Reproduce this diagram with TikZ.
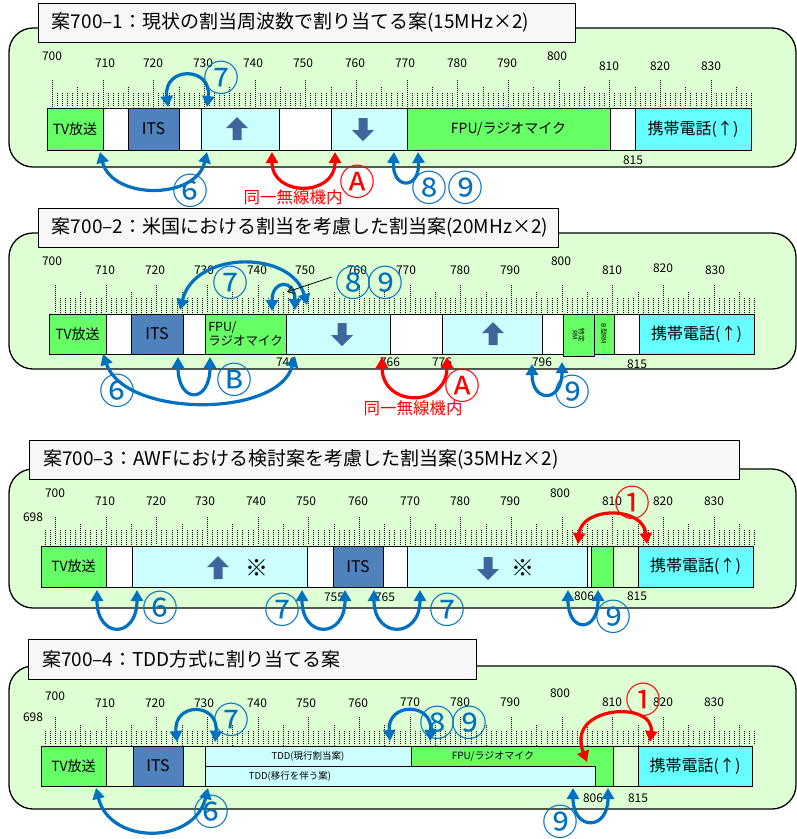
\documentclass[tikz,border=0pt]{standalone}
\usepackage{fontspec}
\setmainfont{Noto Sans CJK JP}
\usetikzlibrary{arrows.meta}
\definecolor{bgG}{HTML}{DEFFD4}
\definecolor{tvG}{HTML}{66FF66}
\definecolor{itsB}{HTML}{4F81BD}
\definecolor{lcy}{HTML}{CCFFFF}
\definecolor{mcy}{HTML}{66FFFF}
\definecolor{arB}{HTML}{0070C0}
\definecolor{arR}{HTML}{FF0000}
\definecolor{blkA}{HTML}{3F669C}
\definecolor{ttlF}{HTML}{F7F7F7}
\newcommand{\fs}[1]{\fontsize{#1}{#1}\selectfont}
\newcommand{\mkticks}[5]{%
 \foreach \f in {#2,...,838}{%
  \pgfmathsetmacro{\tx}{#1+(\f-710)*5.067}%
  \pgfmathsetmacro{\ty}{#4-(#4-#3)*0.45*(mod(\f,5)==0)-(#4-#3)*0.55*(mod(\f,10)==0)}%
  \draw[tickl] (\tx,\ty) -- (\tx,#5);}}
\begin{document}
\begin{tikzpicture}[x=1pt,y=-1pt,
 panel/.style={draw=black, line width=1.3pt, fill=bgG, rounded corners=24pt},
 ttl/.style={draw=black, line width=1pt, fill=ttlF, anchor=north west, inner xsep=14pt, inner ysep=0pt, outer sep=0pt, align=left, font=\fs{19}},
 blk/.style={draw=black, line width=1pt, anchor=north west, inner sep=0pt, outer sep=0pt, font=\fs{14}, minimum height=42pt},
 scl/.style={font=\fs{12}, inner sep=0pt},
 tickl/.style={draw=black, line width=0.65pt, dash pattern=on 0.9pt off 1.1pt},
 barr/.style={draw=arB, line width=3.2pt, {Triangle[length=11pt,width=12pt]}-{Triangle[length=11pt,width=12pt]}},
 rarr/.style={draw=arR, line width=3.2pt, {Triangle[length=11pt,width=12pt]}-{Triangle[length=11pt,width=12pt]}},
 cnum/.style={text=arB, font=\fs{36}, inner sep=0pt},
 rnum/.style={text=arR, font=\fs{36}, inner sep=0pt},
 rtxt/.style={text=arR, font=\fs{16.5}, inner sep=0pt},
 kome/.style={font=\fs{23}, inner sep=0pt},
 uparrow/.pic={\fill[blkA] (0,-12) -- (11,-1) -- (4.5,-1) -- (4.5,11) -- (-4.5,11) -- (-4.5,-1) -- (-11,-1) -- cycle;},
 dnarrow/.pic={\fill[blkA] (0,12) -- (11,1) -- (4.5,1) -- (4.5,-11) -- (-4.5,-11) -- (-4.5,1) -- (-11,1) -- cycle;}
]
\useasboundingbox (0,0) rectangle (797,839);
\fill[white] (0,0) rectangle (797,839);

% ================= Panel 1 =================
\draw[panel] (9,28) rectangle (796,167);
\node[ttl, minimum width=537pt, minimum height=39pt, text width=509pt] (t1) at (38,3) {案700–1：現状の割当周波数で割り当てる案(15MHz×2)};
\mkticks{103}{700}{80}{93}{107}
\foreach \t/\x/\y in {700/52/56,710/105/63,720/153/63,730/203/63,740/253/63,750/303/63,760/355/63,770/405/63,780/457/63,790/507/63,800/557/56,810/609/66,820/660/66,830/711/66}
  \node[scl] (p1s\t) at (\x,\y) {\t};
\node[blk, fill=tvG, minimum width=56pt] (p1tv) at (47,108) {TV放送};
\node[blk, fill=white, minimum width=25pt] (p1w1) at (103,108) {};
\node[blk, fill=itsB, minimum width=51pt, font=\fs{16}] (p1its) at (128,108) {ITS};
\node[blk, fill=white, minimum width=22pt] (p1w2) at (179,108) {};
\node[blk, fill=lcy, minimum width=78pt] (p1up) at (201,108) {};
\node[blk, fill=white, minimum width=52pt] (p1w3) at (279,108) {};
\node[blk, fill=lcy, minimum width=76pt] (p1dn) at (331,108) {};
\node[blk, fill=tvG, minimum width=203pt] (p1fpu) at (407,108) {FPU/ラジオマイク};
\node[blk, fill=white, minimum width=25pt] (p1w4) at (610,108) {};
\node[blk, fill=mcy, minimum width=116pt, font=\fs{16}] (p1mob) at (635,108) {携帯電話(↑)};
\pic at (237,129) {uparrow};
\pic at (363,129) {dnarrow};
\node[scl] (p1b815) at (633,160) {815};
% arrows
\coordinate (p1a7s) at (168,107); \coordinate (p1a7e) at (207,107);
\draw[barr] (p1a7s) .. controls (163,66) and (212,66) .. (p1a7e);
\node[cnum] (p1l7) at (221,78) {⑦};
\coordinate (p1a6s) at (100,152); \coordinate (p1a6e) at (207,152);
\draw[barr] (p1a6s) .. controls (112,200) and (196,200) .. (p1a6e);
\node[cnum] (p1l6) at (190,191) {⑥};
\coordinate (p1aAs) at (272,152); \coordinate (p1aAe) at (335,152);
\draw[rarr] (p1aAs) .. controls (272,197) and (335,197) .. (p1aAe);
\node[rnum] (p1lA) at (357,182) {Ⓐ};
\node[rtxt] (p1same) at (293,197) {同一無線機内};
\coordinate (p1a8s) at (394,152); \coordinate (p1a8e) at (418,152);
\draw[barr] (p1a8s) .. controls (392,190) and (420,190) .. (p1a8e);
\node[cnum] (p1l89) at (447,188) {⑧⑨};

% ================= Panel 2 =================
\draw[panel] (9,233) rectangle (796,369);
\node[ttl, minimum width=520pt, minimum height=39pt, text width=492pt] (t2) at (38,208) {案700–2：米国における割当を考慮した割当案(20MHz×2)};
\mkticks{106}{700}{285}{298}{313}
\foreach \t/\x/\y in {700/52/261,710/105/270,720/155/270,730/204/270,740/257/270,750/305/270,760/357/270,770/406/270,780/460/270,790/510/270,800/561/261,810/612/270,820/663/268,830/715/270}
  \node[scl] (p2s\t) at (\x,\y) {\t};
\node[blk, fill=tvG, minimum width=57pt, minimum height=40pt] (p2tv) at (49,314) {TV放送};
\node[blk, fill=white, minimum width=25pt, minimum height=40pt] (p2w1) at (106,314) {};
\node[blk, fill=itsB, minimum width=52pt, minimum height=40pt, font=\fs{16}] (p2its) at (131,314) {ITS};
\node[blk, fill=white, minimum width=22pt, minimum height=40pt] (p2w2) at (183,314) {};
\node[blk, fill=tvG, minimum width=81pt, minimum height=40pt, align=left, font=\fs{12.5}] (p2fpu) at (205,314) {FPU/\\[2pt]ラジオマイク};
\node[blk, fill=lcy, minimum width=104pt, minimum height=40pt] (p2dn) at (286,314) {};
\node[blk, fill=white, minimum width=52pt, minimum height=40pt] (p2w3) at (390,314) {};
\node[blk, fill=lcy, minimum width=100pt, minimum height=40pt] (p2up) at (442,314) {};
\node[blk, fill=white, minimum width=21pt, minimum height=40pt] (p2w4) at (542,314) {};
\node[blk, fill=tvG, minimum width=31pt, minimum height=42pt] (p2rm1) at (563,314) {};
\node[font=\fs{6.5}, rotate=-90, align=center, inner sep=0pt] (p2rm1t) at (p2rm1.center) {特定\\RM};
\node[blk, fill=tvG, minimum width=20pt, minimum height=40pt] (p2rm2) at (594,314) {};
\node[font=\fs{6.5}, rotate=-90, inner sep=0pt] (p2rm2t) at (p2rm2.center) {B型RM};
\node[blk, fill=white, minimum width=25pt, minimum height=40pt] (p2w5) at (614,314) {};
\node[blk, fill=mcy, minimum width=115pt, minimum height=40pt, font=\fs{16}] (p2mob) at (639,314) {携帯電話(↑)};
\pic at (342,334) {dnarrow};
\pic at (493,334) {uparrow};
\foreach \t/\x in {746/286,766/390,776/442,796/542}
  \node[scl] (p2b\t) at (\x,362) {\t};
\node[scl] (p2b815) at (637,364) {815};
% arrows
\coordinate (p2a7s) at (180,310); \coordinate (p2a7e) at (307,305);
\draw[barr] (p2a7s) .. controls (195,250) and (292,250) .. (p2a7e);
\node[cnum] (p2l7) at (230,283) {⑦};
\coordinate (p2a8s) at (272,311); \coordinate (p2a8e) at (295,310);
\draw[barr] (p2a8s) .. controls (272,279) and (295,279) .. (p2a8e);
\node[cnum] (p2l8) at (353,283) {⑧};
\node[cnum] (p2l9) at (385,283) {⑨};
\coordinate (p2ptr) at (287,292);
\draw[black, line width=0.8pt, -{Straight Barb[length=6pt,width=8pt]}] (p2l8.west) ++(-3,-6) coordinate (p2ptrs) -- (p2ptr);
\coordinate (p2a6s) at (103,354); \coordinate (p2a6e) at (295,356);
\draw[barr] (p2a6s) .. controls (125,418) and (278,418) .. (p2a6e);
\node[cnum] (p2l6) at (117,391) {⑥};
\coordinate (p2aBs) at (178,357); \coordinate (p2aBe) at (210,357);
\draw[barr] (p2aBs) .. controls (178,404) and (210,404) .. (p2aBe);
\node[cnum] (p2lB) at (234,380) {Ⓑ};
\coordinate (p2aAs) at (382,357); \coordinate (p2aAe) at (447,357);
\draw[rarr] (p2aAs) .. controls (382,408) and (447,408) .. (p2aAe);
\node[rnum] (p2lA) at (462,386) {Ⓐ};
\node[rtxt] (p2same) at (413,408) {同一無線機内};
\coordinate (p2a9s) at (532,364); \coordinate (p2a9e) at (562,362);
\draw[barr] (p2a9s) .. controls (532,403) and (562,403) .. (p2a9e);
\node[cnum] (p2l9b) at (572,392) {⑨};

% ================= Panel 3 =================
\draw[panel] (9,469) rectangle (796,608);
\node[ttl, minimum width=710pt, minimum height=39pt, text width=682pt] (t3) at (29,440) {案700–3：AWFにおける検討案を考慮した割当案(35MHz×2)};
\mkticks{106}{698}{517}{530}{545}
\foreach \t/\x/\y in {700/55/493,710/105/501,720/156/501,730/205/501,740/256/501,750/306/501,760/358/501,770/410/501,780/460/501,790/510/501,800/560/493,810/612/501,820/663/501,830/714/501}
  \node[scl] (p3s\t) at (\x,\y) {\t};
\node[scl] (p3s698) at (33,517) {698};
\node[blk, fill=tvG, minimum width=65pt, minimum height=41pt] (p3tv) at (41,546) {TV放送};
\node[blk, fill=white, minimum width=26pt, minimum height=41pt] (p3w1) at (106,546) {};
\node[blk, fill=lcy, minimum width=175pt, minimum height=41pt] (p3up) at (132,546) {};
\node[blk, fill=white, minimum width=26pt, minimum height=41pt] (p3w2) at (307,546) {};
\node[blk, fill=itsB, minimum width=50pt, minimum height=41pt, font=\fs{16}] (p3its) at (333,546) {ITS};
\node[blk, fill=white, minimum width=24pt, minimum height=41pt] (p3w3) at (383,546) {};
\node[blk, fill=lcy, minimum width=180pt, minimum height=41pt] (p3dn) at (407,546) {};
\node[blk, fill=white, minimum width=4pt, minimum height=41pt] (p3w4) at (587,546) {};
\node[blk, fill=tvG, minimum width=22pt, minimum height=41pt] (p3g) at (591,546) {};
\node[blk, fill=bgG, minimum width=25pt, minimum height=41pt] (p3p) at (613,546) {};
\node[blk, fill=mcy, minimum width=115pt, minimum height=41pt, font=\fs{16}] (p3mob) at (638,546) {携帯電話(↑)};
\pic at (218,568) {uparrow};
\node[kome] (p3k1) at (257,568) {※};
\pic at (488,568) {dnarrow};
\node[kome] (p3k2) at (523,568) {※};
\node[scl] (p3b755) at (334,597) {755};
\node[scl] (p3b765) at (385,597) {765};
\node[scl] (p3b806) at (584,596) {806};
\node[scl] (p3b815) at (637,596) {815};
% arrows
\coordinate (p3a6s) at (97,590); \coordinate (p3a6e) at (137,590);
\draw[barr] (p3a6s) .. controls (97,639) and (137,639) .. (p3a6e);
\node[cnum] (p3l6) at (160,608) {⑥};
\coordinate (p3a7s) at (302,590); \coordinate (p3a7e) at (345,590);
\draw[barr] (p3a7s) .. controls (302,639) and (345,639) .. (p3a7e);
\node[cnum] (p3l7a) at (282,610) {⑦};
\coordinate (p3a7bs) at (374,590); \coordinate (p3a7be) at (420,590);
\draw[barr] (p3a7bs) .. controls (374,639) and (420,639) .. (p3a7be);
\node[cnum] (p3l7b) at (447,610) {⑦};
\coordinate (p3a9s) at (568,590); \coordinate (p3a9e) at (598,590);
\draw[barr] (p3a9s) .. controls (568,633) and (598,633) .. (p3a9e);
\node[cnum] (p3l9) at (613,617) {⑨};
\coordinate (p3a1s) at (578,544); \coordinate (p3a1e) at (647,544);
\draw[rarr] (p3a1s) .. controls (582,506) and (643,506) .. (p3a1e);
\node[rnum] (p3l1) at (632,503) {①};

% ================= Panel 4 =================
\draw[panel] (9,666) rectangle (796,809);
\node[ttl, minimum width=448pt, minimum height=40pt, text width=420pt] (t4) at (28,639) {案700–4：TDD方式に割り当てる案};
\mkticks{106}{698}{717}{731}{745}
\foreach \t/\x/\y in {700/55/696,710/105/703,720/155/703,730/204/703,740/257/703,750/306/703,760/358/703,770/410/702,780/460/702,790/510/702,800/560/693,810/612/702,820/663/702,830/714/702}
  \node[scl] (p4s\t) at (\x,\y) {\t};
\node[scl] (p4s698) at (33,717) {698};
\node[blk, fill=tvG, minimum width=65pt, minimum height=40pt] (p4tv) at (41,746) {TV放送};
\node[blk, fill=bgG, minimum width=27pt, minimum height=40pt] (p4p1) at (106,746) {};
\node[blk, fill=itsB, minimum width=50pt, minimum height=40pt, font=\fs{16}] (p4its) at (133,746) {ITS};
\node[blk, fill=bgG, minimum width=22pt, minimum height=40pt] (p4p2) at (183,746) {};
\node[blk, fill=tvG, minimum width=202pt, minimum height=40pt] (p4fpu) at (411,746) {};
\node[font=\fs{10}, inner sep=0pt] (p4fput) at (493,756) {FPU/ラジオマイク};
\node[blk, fill=lcy, minimum width=206pt, minimum height=20pt, font=\fs{9.5}] (p4tdd1) at (205,746) {TDD(現行割当案)};
\node[blk, fill=lcy, minimum width=390pt, minimum height=20pt, font=\fs{9.5}] (p4tdd2) at (205,766) {};
\node[font=\fs{9.5}, inner sep=0pt] (p4tdd2t) at (290,776) {TDD(移行を伴う案)};
\node[blk, fill=bgG, minimum width=25pt, minimum height=40pt] (p4p3) at (613,746) {};
\node[blk, fill=mcy, minimum width=114pt, minimum height=40pt, font=\fs{16}] (p4mob) at (638,746) {携帯電話(↑)};
\node[scl] (p4b806) at (593,798) {806};
\node[scl] (p4b815) at (638,798) {815};
% arrows
\coordinate (p4a7s) at (177,742); \coordinate (p4a7e) at (215,742);
\draw[barr] (p4a7s) .. controls (173,702) and (219,702) .. (p4a7e);
\node[cnum] (p4l7) at (231,720) {⑦};
\coordinate (p4a8s) at (390,741); \coordinate (p4a8e) at (430,741);
\draw[barr] (p4a8s) .. controls (387,702) and (433,702) .. (p4a8e);
\node[cnum] (p4l8) at (437,723) {⑧};
\node[cnum] (p4l9) at (469,723) {⑨};
\coordinate (p4a6s) at (96,788); \coordinate (p4a6e) at (208,788);
\draw[barr] (p4a6s) .. controls (110,845) and (194,845) .. (p4a6e);
\node[cnum] (p4l6) at (211,812) {⑥};
\coordinate (p4a9s) at (573,788); \coordinate (p4a9e) at (608,788);
\draw[barr] (p4a9s) .. controls (573,831) and (608,831) .. (p4a9e);
\node[cnum] (p4l9b) at (560,822) {⑨};
\coordinate (p4a1s) at (587,762); \coordinate (p4a1e) at (650,742);
\draw[rarr] (p4a1s) .. controls (565,705) and (655,700) .. (p4a1e);
\node[rnum] (p4l1) at (643,700) {①};
\end{tikzpicture}
\end{document}
